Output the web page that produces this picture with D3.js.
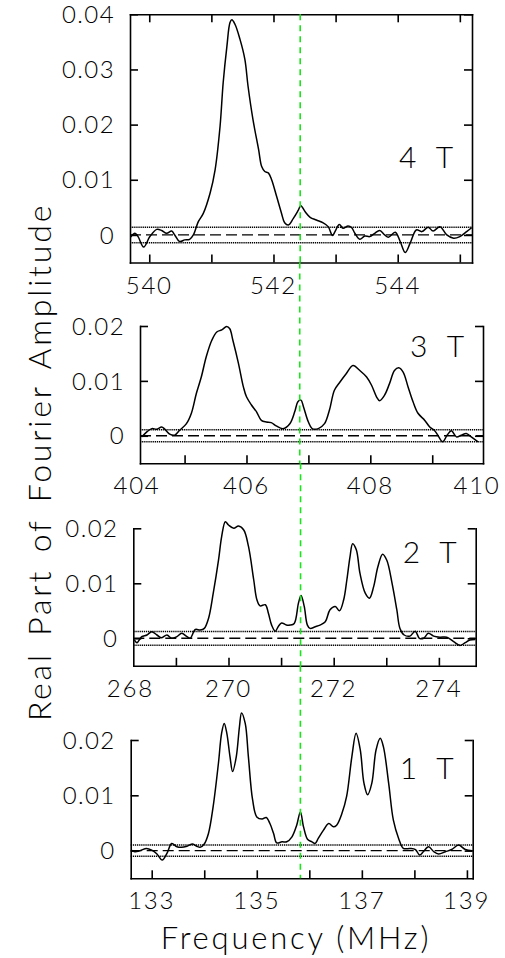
<!DOCTYPE html>
<html>
<head>
<meta charset="utf-8">
<script src="https://cdn.jsdelivr.net/npm/d3@7/dist/d3.min.js"></script>
<style>
  html, body { margin: 0; padding: 0; background: #fff; }
  svg { display: block; font-family: Lato, "Liberation Sans", Arial, sans-serif; font-weight: 300; }
</style>
</head>
<body>
<script>
// ---- Spectra: real part of the Fourier amplitude vs. frequency (MHz) ----
const freq4T = [539.70,539.77,539.82,539.91,540.01,540.12,540.20,540.28,540.36,540.41,540.49,540.57,540.65,540.71,540.79,540.87,540.98,541.06,541.14,541.19,541.25,541.30,541.33,541.38,541.46,541.54,541.59,541.67,541.76,541.81,541.86,541.92,541.97,542.05,542.13,542.18,542.24,542.32,542.40,542.44,542.51,542.59,542.69,542.80,542.88,542.95,542.99,543.06,543.12,543.20,543.26,543.31,543.39,543.47,543.55,543.63,543.71,543.79,543.85,543.96,544.04,544.12,544.20,544.30,544.39,544.49,544.57,544.68,544.79,544.90,545.00,545.11,545.19];
const amp4T  = [-0.0004,0.0003,-0.0003,-0.0022,-0.0003,0.0010,0.0008,0.0003,0.0007,0.0000,-0.0012,-0.0009,-0.0008,0.0000,0.0024,0.0039,0.0076,0.0118,0.0197,0.0276,0.0342,0.0385,0.0390,0.0382,0.0355,0.0318,0.0270,0.0209,0.0155,0.0124,0.0115,0.0112,0.0100,0.0070,0.0039,0.0022,0.0018,0.0030,0.0045,0.0053,0.0042,0.0032,0.0027,0.0022,0.0015,-0.0001,0.0006,0.0019,0.0012,0.0016,0.0013,0.0003,-0.0008,-0.0002,-0.0003,0.0003,0.0008,0.0000,-0.0004,0.0005,-0.0012,-0.0032,-0.0015,0.0009,0.0006,0.0014,0.0007,0.0015,0.0000,-0.0006,-0.0003,0.0006,0.0013];

const freq3T = [404.31,404.39,404.47,404.55,404.63,404.68,404.76,404.84,404.92,405.03,405.11,405.19,405.27,405.35,405.44,405.52,405.60,405.68,405.73,405.78,405.87,405.95,406.00,406.08,406.16,406.24,406.32,406.40,406.48,406.59,406.70,406.78,406.83,406.88,406.92,407.00,407.06,407.16,407.26,407.34,407.42,407.51,407.61,407.72,407.83,407.94,408.02,408.10,408.15,408.23,408.31,408.39,408.46,408.53,408.61,408.69,408.77,408.88,408.96,409.04,409.09,409.17,409.24,409.31,409.39,409.47,409.55,409.63,409.74];
const amp3T  = [-0.0002,0.0007,0.0013,0.0012,0.0016,0.0012,0.0003,0.0001,0.0010,0.0022,0.0041,0.0077,0.0107,0.0144,0.0174,0.0189,0.0193,0.0199,0.0195,0.0174,0.0132,0.0089,0.0071,0.0056,0.0044,0.0028,0.0025,0.0024,0.0018,0.0013,0.0022,0.0044,0.0062,0.0065,0.0053,0.0025,0.0013,0.0013,0.0022,0.0047,0.0083,0.0098,0.0113,0.0128,0.0119,0.0107,0.0092,0.0071,0.0064,0.0074,0.0095,0.0119,0.0124,0.0116,0.0089,0.0062,0.0041,0.0028,0.0016,0.0009,0.0001,-0.0011,0.0001,0.0009,-0.0002,0.0001,0.0004,-0.0002,-0.0011];

const freq2T = [268.21,268.26,268.35,268.45,268.54,268.64,268.72,268.83,268.92,269.02,269.11,269.21,269.27,269.37,269.46,269.54,269.62,269.71,269.81,269.87,269.94,270.00,270.10,270.19,270.29,270.38,270.48,270.54,270.60,270.70,270.76,270.82,270.89,270.95,271.01,271.10,271.17,271.25,271.33,271.38,271.44,271.50,271.55,271.65,271.74,271.84,271.93,272.03,272.11,272.19,272.25,272.31,272.36,272.43,272.50,272.60,272.68,272.76,272.84,272.93,273.01,273.11,273.20,273.26,273.34,273.45,273.55,273.63,273.71,273.80,273.90,274.02,274.15,274.28,274.40,274.50,274.59,274.69];
const amp2T  = [-0.0003,-0.0008,0.0003,0.0006,0.0012,0.0006,0.0001,0.0006,0.0000,0.0003,0.0009,0.0003,0.0000,0.0016,0.0015,0.0018,0.0036,0.0082,0.0142,0.0185,0.0212,0.0206,0.0200,0.0204,0.0197,0.0167,0.0106,0.0070,0.0059,0.0061,0.0045,0.0024,0.0013,0.0022,0.0028,0.0024,0.0024,0.0027,0.0064,0.0078,0.0058,0.0024,0.0018,0.0021,0.0024,0.0030,0.0052,0.0058,0.0050,0.0070,0.0106,0.0148,0.0172,0.0161,0.0118,0.0082,0.0073,0.0094,0.0130,0.0153,0.0142,0.0100,0.0052,0.0018,0.0006,0.0004,0.0013,0.0000,0.0000,0.0009,0.0004,0.0002,0.0002,-0.0006,-0.0013,-0.0008,-0.0003,-0.0002];

const freq1T = [132.61,132.68,132.78,132.90,133.00,133.10,133.20,133.29,133.38,133.48,133.57,133.67,133.78,133.86,133.92,134.00,134.08,134.17,134.27,134.33,134.38,134.43,134.49,134.54,134.61,134.67,134.71,134.78,134.84,134.92,135.00,135.10,135.18,135.25,135.32,135.38,135.48,135.57,135.67,135.76,135.83,135.89,135.97,136.05,136.11,136.17,136.27,136.37,136.46,136.52,136.62,136.71,136.81,136.89,136.97,137.04,137.11,137.19,137.27,137.35,137.41,137.51,137.60,137.70,137.79,137.92,138.02,138.10,138.17,138.27,138.37,138.46,138.59,138.71,138.84,138.97,139.10];
const amp1T  = [0.0001,-0.0002,0.0000,0.0004,0.0001,-0.0006,-0.0017,-0.0005,0.0013,0.0007,0.0006,0.0008,0.0012,0.0008,0.0006,0.0012,0.0031,0.0080,0.0158,0.0212,0.0230,0.0212,0.0170,0.0143,0.0170,0.0224,0.0249,0.0230,0.0170,0.0092,0.0061,0.0057,0.0060,0.0049,0.0031,0.0014,0.0016,0.0016,0.0025,0.0046,0.0070,0.0043,0.0020,0.0016,0.0013,0.0022,0.0037,0.0049,0.0043,0.0046,0.0067,0.0098,0.0170,0.0212,0.0182,0.0122,0.0101,0.0122,0.0182,0.0203,0.0188,0.0122,0.0055,0.0022,0.0004,0.0004,0.0002,-0.0008,-0.0002,0.0007,-0.0002,-0.0006,-0.0002,0.0002,0.0010,0.0002,0.0000];

// Field labels, frequency windows, noise levels and the marked frequency
const fieldLabels  = ["4 T", "3 T", "2 T", "1 T"];
const freqWindows  = [[539.69, 545.196], [404.28, 409.82], [268.19, 274.70], [132.60, 139.11]];
const ampMax       = [0.04, 0.02, 0.02, 0.02];
const ampMin       = -0.005;
const noiseLevel   = [0.0014, 0.0011, 0.00125, 0.0010];
const markerFreq   = [542.43, 406.86, 271.37, 135.83];

// Ticks
const xMinorTicks = [[540, 541, 542, 543, 544, 545], [405, 406, 407, 408, 409], [269, 270, 271, 272, 273, 274], [133, 134, 135, 136, 137, 138, 139]];
const xTickLabels = [[540, 542, 544], [404, 406, 408, 410], [268, 270, 272, 274], [133, 135, 137, 139]];
const yTickValues = [[0, 0.01, 0.02, 0.03, 0.04], [0, 0.01, 0.02], [0, 0.01, 0.02], [0, 0.01, 0.02]];

const seriesFreq = [freq4T, freq3T, freq2T, freq1T];
const seriesAmp  = [amp4T, amp3T, amp2T, amp1T];

// ---- Layout of the stacked panels (pixels) ----
const W = 505, H = 958;
const frames = [
  { left: 130.0, right: 472.0, top: 14.3,  bottom: 262.5, labelAmp: 0.0122, boxTop: true },
  { left: 140.0, right: 483.0, top: 326.0, bottom: 463.2, labelAmp: 0.0143, boxTop: false },
  { left: 133.3, right: 475.7, top: 528.3, bottom: 665.8, labelAmp: 0.0137, boxTop: false },
  { left: 130.7, right: 472.7, top: 740.0, bottom: 878.3, labelAmp: 0.0130, boxTop: false }
];
const TICK = 8;
const axisWidth = 1.6;

const svg = d3.select("body").append("svg")
  .attr("width", W).attr("height", H)
  .attr("viewBox", `0 0 ${W} ${H}`);
svg.append("rect").attr("width", W).attr("height", H).attr("fill", "#fff");

const fmtAmp = v => v === 0 ? "0" : v.toFixed(2);

function styleAxis(g) {
  g.selectAll("path, line").attr("stroke", "#000").attr("stroke-width", axisWidth);
  g.selectAll("text").remove();
}

const greenSegments = [];

frames.forEach((f, i) => {
  const x = d3.scaleLinear().domain(freqWindows[i]).range([f.left, f.right]);
  const y = d3.scaleLinear().domain([ampMin, ampMax[i]]).range([f.bottom, f.top]);
  const g = svg.append("g");

  // Noise band (dotted) and zero line (dashed)
  [noiseLevel[i], -noiseLevel[i]].forEach(v => {
    g.append("line")
      .attr("x1", f.left).attr("x2", f.right)
      .attr("y1", y(v)).attr("y2", y(v))
      .attr("stroke", "#000").attr("stroke-width", 1.5)
      .attr("stroke-dasharray", "1.3,0.8");
  });
  g.append("line")
    .attr("x1", f.left).attr("x2", f.right)
    .attr("y1", y(0)).attr("y2", y(0))
    .attr("stroke", "#000").attr("stroke-width", 1.4)
    .attr("stroke-dasharray", "11,5");

  // Spectrum
  const pts = d3.zip(seriesFreq[i], seriesAmp[i]);
  g.append("path")
    .datum(pts)
    .attr("fill", "none")
    .attr("stroke", "#000")
    .attr("stroke-width", 1.5)
    .attr("stroke-linejoin", "round")
    .attr("d", d3.line().x(d => x(d[0])).y(d => y(d[1])).curve(d3.curveCatmullRom.alpha(0.5)));

  // Frame axes with inward ticks
  g.append("g").attr("transform", `translate(0,${f.bottom})`)
    .call(d3.axisBottom(x).tickValues(xMinorTicks[i]).tickSizeInner(-TICK).tickSizeOuter(0).tickFormat(""))
    .call(styleAxis);
  g.append("g").attr("transform", `translate(${f.left},0)`)
    .call(d3.axisLeft(y).tickValues(yTickValues[i]).tickSizeInner(-TICK).tickSizeOuter(0).tickFormat(""))
    .call(styleAxis);
  g.append("g").attr("transform", `translate(${f.right},0)`)
    .call(d3.axisRight(y).tickValues(yTickValues[i]).tickSizeInner(-TICK).tickSizeOuter(0).tickFormat(""))
    .call(styleAxis);
  if (f.boxTop) {
    g.append("g").attr("transform", `translate(0,${f.top})`)
      .call(d3.axisTop(x).tickValues(xMinorTicks[i]).tickSizeInner(-TICK).tickSizeOuter(0).tickFormat(""))
      .call(styleAxis);
  }
  g.selectAll(".domain").attr("stroke-linecap", "square");

  // Y tick labels
  g.selectAll("text.ylab").data(yTickValues[i]).enter().append("text")
    .attr("class", "ylab")
    .attr("x", f.left - 15)
    .attr("y", d => y(d))
    .attr("dy", "0.36em")
    .attr("text-anchor", "end")
    .attr("font-size", 24)
    .attr("letter-spacing", 1.4)
    .attr("fill", "#000")
    .text(fmtAmp);

  // X tick labels (edge labels held inside the frame)
  g.selectAll("text.xlab").data(xTickLabels[i]).enter().append("text")
    .attr("class", "xlab")
    .attr("x", d => Math.max(f.left - 3, Math.min(f.right - 6, x(d))))
    .attr("y", f.bottom + 31)
    .attr("text-anchor", "middle")
    .attr("font-size", 24)
    .attr("letter-spacing", 1.8)
    .attr("fill", "#000")
    .text(d => d);

  // Field label
  g.append("text")
    .attr("x", f.right - 19)
    .attr("y", y(f.labelAmp))
    .attr("text-anchor", "end")
    .attr("font-size", 30)
    .attr("word-spacing", 12)
    .attr("fill", "#000")
    .text(fieldLabels[i]);

  greenSegments.push({
    x: x(markerFreq[i]),
    y1: i === 0 ? f.top : frames[i - 1].bottom,
    y2: f.bottom
  });
});

// Marked frequency, running through all panels
svg.append("g").selectAll("line").data(greenSegments).enter().append("line")
  .attr("x1", d => d.x).attr("x2", d => d.x)
  .attr("y1", d => d.y1).attr("y2", d => d.y2)
  .attr("stroke", "#19e619").attr("stroke-width", 1.6)
  .attr("stroke-dasharray", "6,5");

// Axis titles
svg.append("text")
  .attr("x", 296).attr("y", 949)
  .attr("text-anchor", "middle")
  .attr("font-size", 31)
  .attr("letter-spacing", 2.8)
  .attr("fill", "#000")
  .text("Frequency (MHz)");

svg.append("text")
  .attr("transform", "translate(51,462) rotate(-90)")
  .attr("text-anchor", "middle")
  .attr("font-size", 32)
  .attr("letter-spacing", 2.8)
  .attr("word-spacing", 5)
  .attr("fill", "#000")
  .text("Real Part of Fourier Amplitude");
</script>
</body>
</html>
